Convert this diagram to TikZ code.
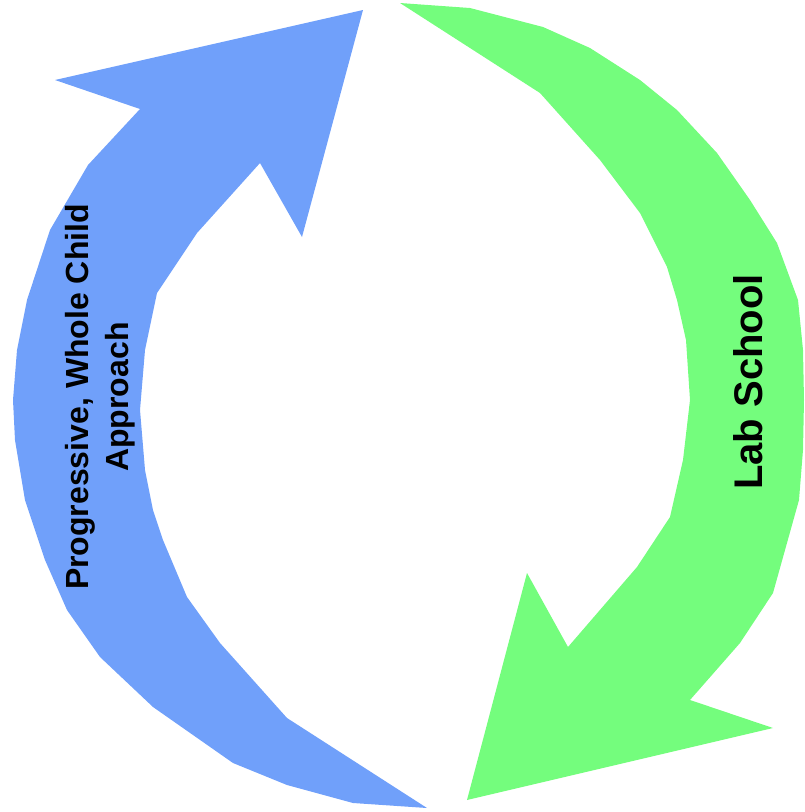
\documentclass[tikz,border=0pt]{standalone}
\usepackage{fontspec}
\setmainfont{Liberation Sans}
\definecolor{arrowblue}{RGB}{112,160,250}
\definecolor{arrowgreen}{RGB}{116,253,125}
\begin{document}
\begin{tikzpicture}[x=1pt,y=-1pt,
  cyclearrow/.style={line join=round},
  lbl/.style={font=\bfseries, text=black, align=center, rotate=90, inner sep=0pt}]
\useasboundingbox (0,0) rectangle (804,812);
% blue arrow (left, pointing up)
\fill[arrowblue,cyclearrow] (363,10) -- (302,237) -- (260,163) -- (197,233) -- (157,293)
  -- (145,350) -- (140,410) -- (145,470) -- (153,510) -- (163,540) -- (187,597)
  -- (220,643) -- (287,718) -- (427,808) -- (353,803) -- (287,785) -- (233,763)
  -- (153,707) -- (100,657) -- (67,610) -- (45,560) -- (25,500) -- (15,440)
  -- (13,400) -- (17,350) -- (27,300) -- (50,230) -- (88,165) -- (140,109)
  -- (55,80) -- cycle;
% green arrow (right, pointing down)
\fill[arrowgreen,cyclearrow] (400,3) -- (470,8) -- (543,27) -- (590,48) -- (640,80)
  -- (677,110) -- (717,153) -- (750,200) -- (777,243) -- (798,300) -- (803,350)
  -- (804,400) -- (803,450) -- (799,500) -- (773,593) -- (740,643) -- (690,700)
  -- (773,728) -- (467,800) -- (527,573) -- (568,647) -- (637,567) -- (670,517)
  -- (683,460) -- (690,400) -- (686,340) -- (677,300) -- (667,267) -- (640,213)
  -- (600,160) -- (540,93) -- cycle;
\node[lbl, font=\fontsize{32}{40}\selectfont\bfseries] (blue) at (100,397)
  {Progressive, Whole Child\\Approach};
\node[lbl, font=\fontsize{40}{48}\selectfont\bfseries] (green) at (748,382) {Lab School};
\end{tikzpicture}
\end{document}
